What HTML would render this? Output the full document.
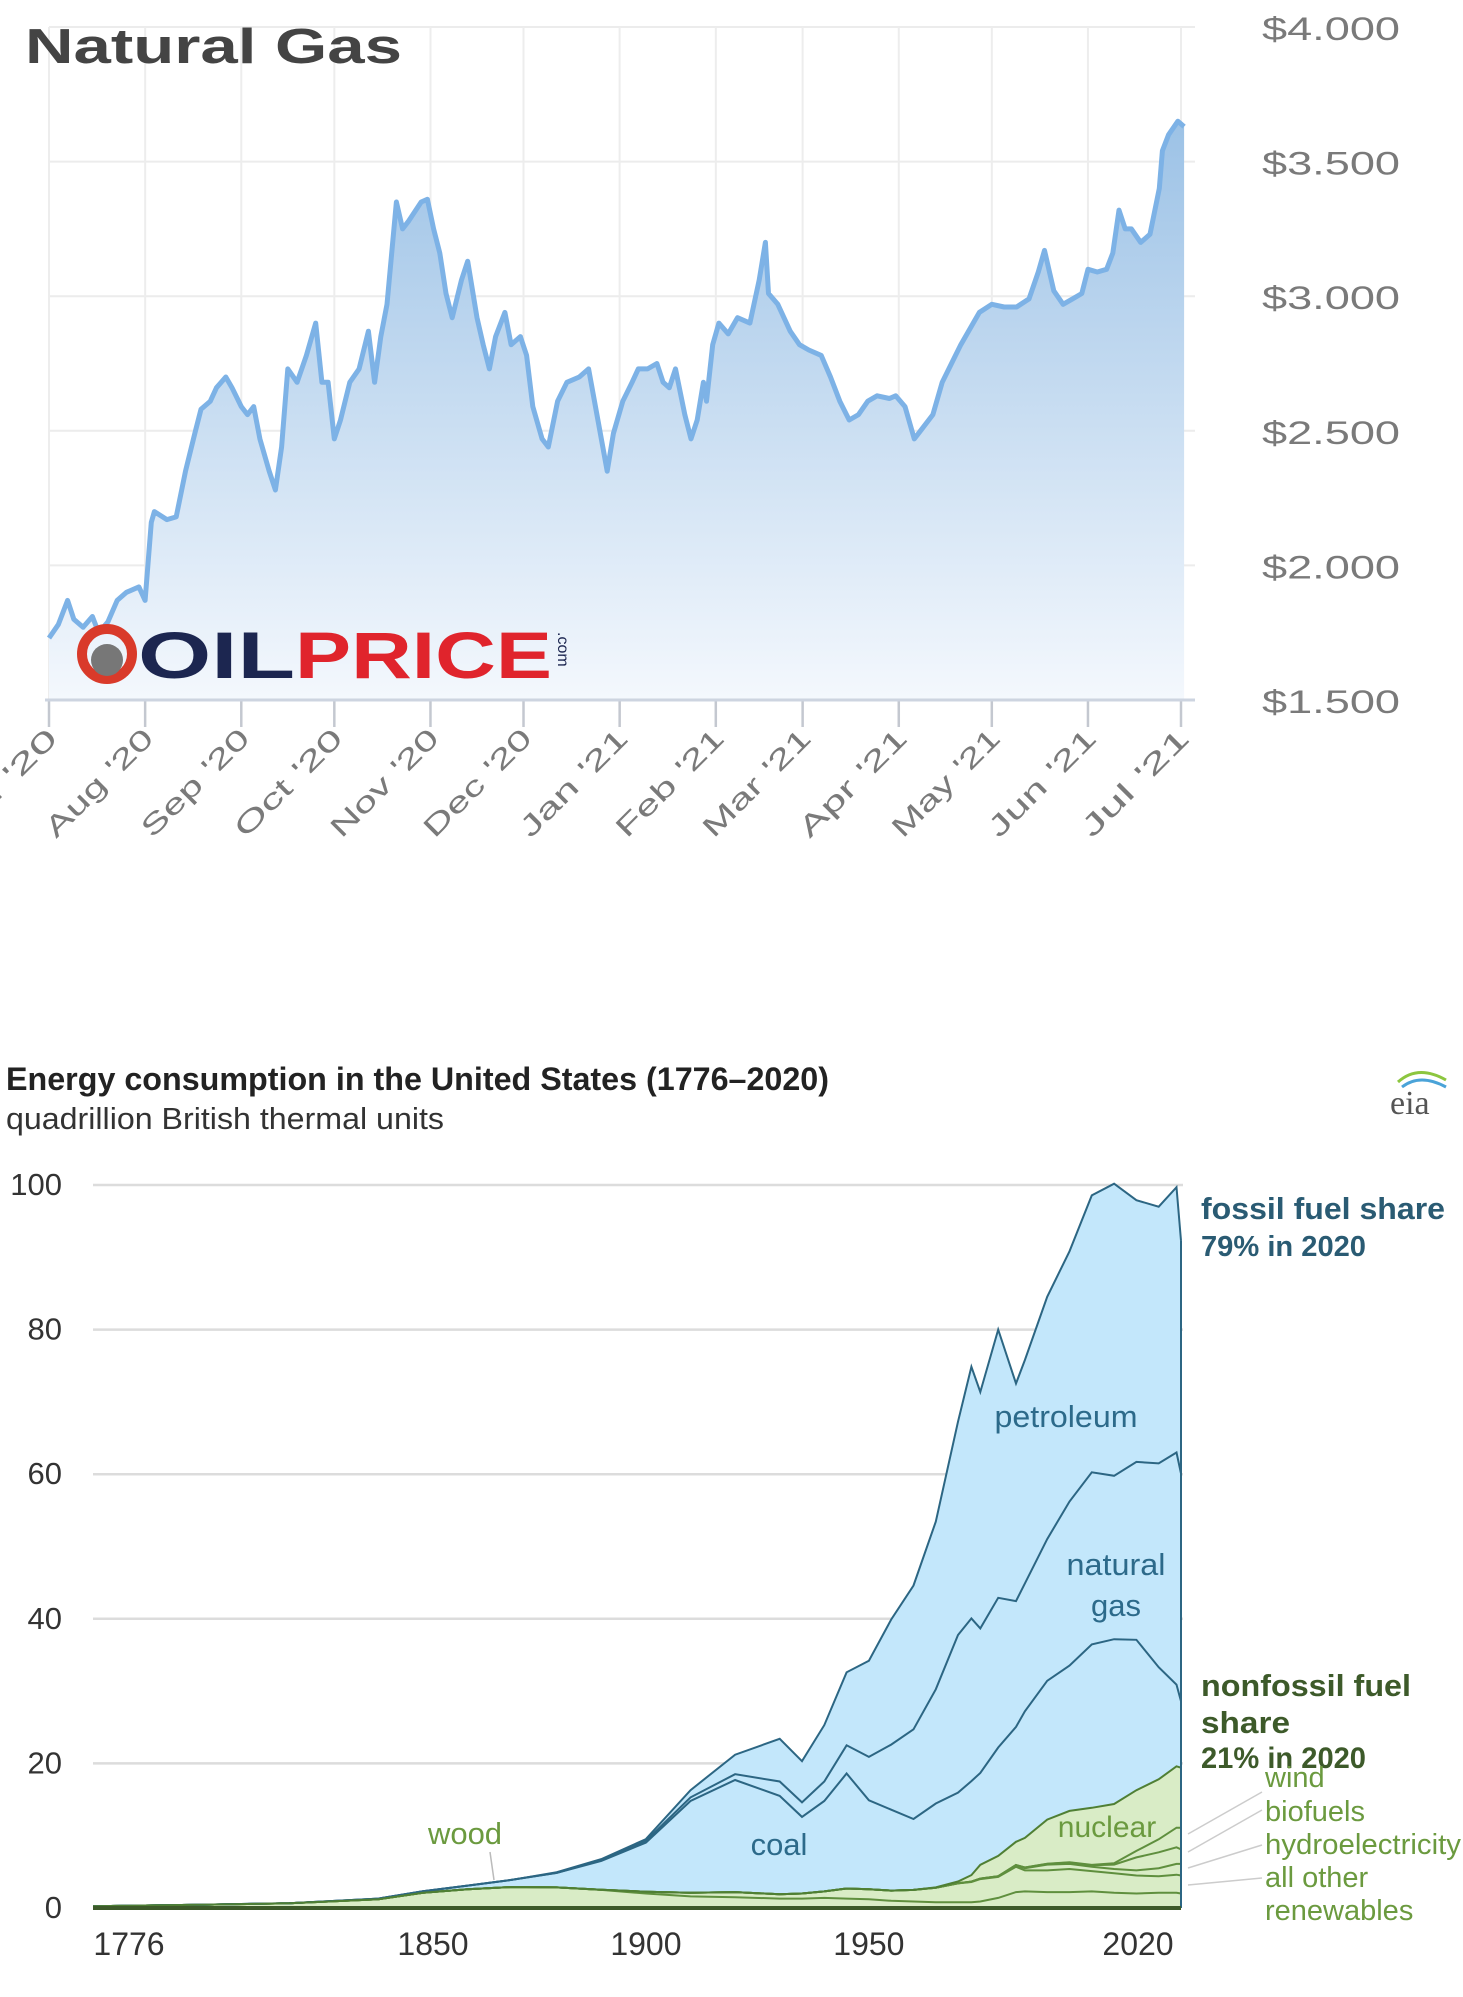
<!DOCTYPE html>
<html><head><meta charset="utf-8"><style>
html,body{margin:0;padding:0;background:#fff;}
svg{display:block;font-family:"Liberation Sans",Arial,sans-serif;}
</style></head><body>
<svg id="root" width="1463" height="1997" viewBox="0 0 1463 1997">
<defs>
<linearGradient id="gfill" x1="0" y1="0" x2="0" y2="1">
<stop offset="0" stop-color="#9cc2e6"/><stop offset="1" stop-color="#f4f8fd"/>
</linearGradient>
</defs>
<g id="ngChart">
<g id="ngGrid"></g>
<g id="ngArea"></g>
<text x="25" y="63" font-size="49" font-weight="bold" fill="#444" textLength="377" lengthAdjust="spacingAndGlyphs">Natural Gas</text>
<g>
<circle cx="107" cy="654" r="25" fill="none" stroke="#d93a2a" stroke-width="10"/>
<circle cx="107" cy="660" r="16" fill="#777"/>
<text x="138" y="678" font-size="66" font-weight="bold" fill="#1c2650" textLength="157" lengthAdjust="spacingAndGlyphs">OIL</text>
<text x="295" y="678" font-size="66" font-weight="bold" fill="#e0242c" textLength="257" lengthAdjust="spacingAndGlyphs">PRICE</text>
<text x="0" y="0" font-size="16" fill="#1c2650" transform="translate(558,632) rotate(90)">.com</text>
</g>
<g id="ngAxes"></g>
</g>
<g id="euChart">
<text x="6" y="1090" font-size="32" font-weight="bold" fill="#222" textLength="823" lengthAdjust="spacingAndGlyphs">Energy consumption in the United States (1776–2020)</text>
<text x="6" y="1129" font-size="31" fill="#333" textLength="438" lengthAdjust="spacingAndGlyphs">quadrillion British thermal units</text>
<g>
<path d="M1398 1082 Q1418 1064 1446 1080" stroke="#8cc63f" stroke-width="3" fill="none"/>
<path d="M1402 1087 Q1420 1073 1446 1087" stroke="#4aa3d8" stroke-width="3" fill="none"/>
<text x="1390" y="1114" font-size="34" font-family="Liberation Serif,serif" fill="#555">eia</text>
</g>
<g id="euGrid"></g>
<g id="euArea"></g>
<g id="euLabels"></g>
</g>
</svg>
<script>
// ---------- Natural gas data ----------
const ngDays=[0,3,6,8,11,14,16,19,22,25,29,31,33,34,38,41,44,47,49,52,54,57,59,62,64,66,68,71,73,75,77,80,83,86,88,90,92,94,97,100,103,105,107,109,112,114,116,120,122,124,126,128,130,133,135,138,140,142,144,147,149,152,154,156,159,161,164,167,171,174,177,180,182,185,188,190,193,196,198,200,202,205,207,209,211,212,214,216,219,222,226,229,231,232,235,239,242,245,249,252,255,258,261,264,267,271,273,276,279,281,285,288,291,294,298,300,304,308,312,316,319,321,324,327,330,333,335,338,341,343,345,347,349,352,355,358,359,361,364,366];
const ngPrices=[1.73,1.78,1.87,1.80,1.77,1.81,1.75,1.79,1.87,1.90,1.92,1.87,2.16,2.20,2.17,2.18,2.35,2.49,2.58,2.61,2.66,2.70,2.66,2.59,2.56,2.59,2.47,2.35,2.28,2.44,2.73,2.68,2.78,2.90,2.68,2.68,2.47,2.54,2.68,2.73,2.87,2.68,2.85,2.97,3.35,3.25,3.28,3.35,3.36,3.25,3.16,3.01,2.92,3.06,3.13,2.92,2.82,2.73,2.85,2.94,2.82,2.85,2.78,2.59,2.47,2.44,2.61,2.68,2.70,2.73,2.54,2.35,2.49,2.61,2.68,2.73,2.73,2.75,2.68,2.66,2.73,2.56,2.47,2.54,2.68,2.61,2.82,2.90,2.86,2.92,2.90,3.06,3.20,3.01,2.97,2.87,2.82,2.80,2.78,2.70,2.61,2.54,2.56,2.61,2.63,2.62,2.63,2.59,2.47,2.50,2.56,2.68,2.75,2.82,2.90,2.94,2.97,2.96,2.96,2.99,3.09,3.17,3.02,2.97,2.99,3.01,3.10,3.09,3.10,3.16,3.32,3.25,3.25,3.20,3.23,3.40,3.54,3.60,3.65,3.63];
const ngYTicks=[1.5,2.0,2.5,3.0,3.5,4.0];
const ngYLabels=["$1.500","$2.000","$2.500","$3.000","$3.500","$4.000"];
const ngMonths=["Jul '20","Aug '20","Sep '20","Oct '20","Nov '20","Dec '20","Jan '21","Feb '21","Mar '21","Apr '21","May '21","Jun '21","Jul '21"];
const ngMonthDays=[0,31,62,92,123,153,184,215,243,274,304,335,365];

// ---------- Energy data ----------
const euYears=[1776,1800,1820,1840,1850,1860,1870,1880,1890,1900,1910,1920,1930,1935,1940,1945,1950,1955,1960,1965,1970,1973,1975,1979,1983,1985,1990,1995,2000,2005,2010,2015,2019,2020];
const euWood=[0.25,0.45,0.65,1.2,2.1,2.6,2.9,2.85,2.5,2.0,1.6,1.5,1.3,1.3,1.4,1.3,1.2,1.0,0.9,0.8,0.8,0.8,0.9,1.4,2.2,2.3,2.2,2.2,2.3,2.1,2.0,2.1,2.1,2.0];
const euHydro=[0,0,0,0,0,0,0,0,0.02,0.25,0.5,0.7,0.6,0.7,0.9,1.4,1.4,1.4,1.6,2.0,2.6,2.8,3.1,2.9,3.5,2.9,3.0,3.2,2.8,2.7,2.5,2.3,2.5,2.5];
const euOtherRen=[0,0,0,0,0,0,0,0,0,0,0,0,0,0,0,0,0,0,0,0.01,0.02,0.05,0.07,0.1,0.2,0.3,0.8,0.7,0.6,0.6,0.7,1.1,1.5,1.6];
const euBiofuels=[0,0,0,0,0,0,0,0,0,0,0,0,0,0,0,0,0,0,0,0,0,0,0,0,0.05,0.1,0.1,0.2,0.2,0.6,1.8,2.2,2.3,2.0];
const euWind=[0,0,0,0,0,0,0,0,0,0,0,0,0,0,0,0,0,0,0,0,0,0,0,0,0,0,0.03,0.03,0.06,0.18,0.9,1.8,2.7,3.0];
const euNuclear=[0,0,0,0,0,0,0,0,0,0,0,0,0,0,0,0,0,0,0.01,0.04,0.24,0.9,1.9,2.8,3.2,4.1,6.1,7.1,7.9,8.2,8.4,8.3,8.5,8.3];
const euCoal=[0,0,0.02,0.1,0.22,0.5,1.0,2.0,4.0,6.8,12.7,15.5,13.6,10.6,12.5,15.9,12.3,11.2,9.8,11.6,12.3,13.0,12.7,15.0,15.9,17.5,19.2,20.1,22.6,22.8,20.8,15.5,11.3,9.2];
const euGas=[0,0,0,0,0,0,0,0,0.1,0.25,0.5,0.8,2.0,2.0,2.7,3.9,6.0,9.0,12.4,15.8,21.8,22.5,20.0,20.7,17.4,17.7,19.6,22.7,23.8,22.6,24.6,28.2,32.1,31.5];
const euPetroleum=[0,0,0,0,0,0,0,0.1,0.15,0.23,1.0,2.7,5.9,5.7,7.8,10.1,13.3,17.3,19.9,23.2,29.5,34.8,32.7,37.1,30.1,30.9,33.5,34.6,38.3,40.4,36.2,35.5,36.7,32.2];
const euYTicks=[0,20,40,60,80,100];
const euXTicks=[1776,1850,1900,1950,2020];

const NS="http://www.w3.org/2000/svg";
function mk(tag,attrs,parent){const e=document.createElementNS(NS,tag);for(const k in attrs)e.setAttribute(k,attrs[k]);parent.appendChild(e);return e;}

// ---- Natural gas chart ----
(function(){
const x0=49,x1=1181,y0=700,y1=27;
const xs=d=>x0+(d/365)*(x1-x0);
const ys=v=>y0-(v-1.5)/2.5*(y0-y1);
const grid=document.getElementById('ngGrid'),area=document.getElementById('ngArea'),ax=document.getElementById('ngAxes');
ngYTicks.forEach((t,i)=>{
  const l=mk('line',{x1:x0,x2:1195,y1:ys(t),y2:ys(t),stroke:'#ececec','stroke-width':2},grid);
  
  
  const tx=mk('text',{x:1262,y:ys(t)+13,'font-size':32,fill:'#7a7a7a',textLength:138,lengthAdjust:'spacingAndGlyphs'},grid);
  tx.textContent=ngYLabels[i];
  
  
});
ngMonthDays.forEach((d,i)=>{
  const X=xs(d);
  const l=mk('line',{x1:X,x2:X,y1:y1,y2:y0,stroke:'#ededed','stroke-width':2},grid);
  
  
  const tk=mk('line',{x1:X,x2:X,y1:y0,y2:y0+27,stroke:'#c4c8d0','stroke-width':2.5},ax);
  
  
  const tx=mk('text',{x:0,y:0,'font-size':28,fill:'#7a7a7a','text-anchor':'end',textLength:140,lengthAdjust:'spacingAndGlyphs',transform:`translate(${X+10},${y0+40}) rotate(-45)`},ax);
  tx.textContent=ngMonths[i];
  
  
});
const axl=mk('line',{x1:x0-4,x2:1195,y1:y0,y2:y0,stroke:'#cdd4e0','stroke-width':3},ax);


let d='';ngDays.forEach((dd,i)=>{d+=(i?'L':'M')+xs(dd).toFixed(1)+' '+ys(ngPrices[i]).toFixed(1);});
const fill=mk('path',{d:d+`L${xs(ngDays[ngDays.length-1])} ${y0}L${xs(0)} ${y0}Z`,fill:'url(#gfill)'},area);


const line=mk('path',{d:d,fill:'none',stroke:'#7db2e6','stroke-width':5,'stroke-linejoin':'round'},area);


})();

// ---- Energy chart ----
(function(){
const x0=93,x1=1181,y0=1908,y1=1185;
const xs=y=>x0+(y-1776)/(2020-1776)*(x1-x0);
const ys=v=>y0-v/100*(y0-y1);
const grid=document.getElementById('euGrid'),area=document.getElementById('euArea'),lab=document.getElementById('euLabels');
euYTicks.forEach(t=>{
  if(t>0){const l=mk('line',{x1:x0,x2:1183,y1:ys(t),y2:ys(t),stroke:'#dcdcdc','stroke-width':2.5},grid);
  
  }
  const tx=mk('text',{x:62,y:ys(t)+10,'font-size':31,fill:'#333','text-anchor':'end'},grid);
  tx.textContent=t;
  
  
});
euXTicks.forEach(t=>{
  let X=xs(t); if(t===1776) X=129; if(t===2020) X=1138; if(t===1850) X=433;
  const tx=mk('text',{x:X,y:1955,'font-size':32,fill:'#333','text-anchor':'middle'},grid);
  tx.textContent=t;
  
  
});
const layers=[euWood,euHydro,euOtherRen,euBiofuels,euWind,euNuclear];
const cum=[];let acc=euYears.map(()=>0);
layers.forEach(L=>{acc=acc.map((a,i)=>a+L[i]);cum.push(acc.slice());});
const c1=acc;const c2=[],c3=[],c4=[];
euYears.forEach((y,i)=>{const b=c1[i]+euCoal[i],c=b+euGas[i],d=c+euPetroleum[i];c2.push(b);c3.push(c);c4.push(d);});
const pts=arr=>euYears.map((y,i)=>xs(y).toFixed(1)+' '+ys(arr[i]).toFixed(1));
const lineD=arr=>'M'+pts(arr).join('L');
const areaD=(top,bot)=>{const t=pts(top),b=bot?pts(bot).reverse():[xs(2020)+' '+y0,xs(1776)+' '+y0];return 'M'+t.join('L')+'L'+b.join('L')+'Z';};
const fossil=mk('path',{d:areaD(c4,c1),fill:'#c3e7fb'},area);


const nonf=mk('path',{d:areaD(c1,null),fill:'#d9ecc6'},area);


const lnames=['wood-line','hydro-line','other-renewables-line','biofuels-line','wind-line'];
cum.slice(0,5).forEach((arr,k)=>{
  const p=mk('path',{d:lineD(arr),fill:'none',stroke:'#5f8f3e','stroke-width':2},area);
  
  
});
[[c4,'petroleum-line'],[c3,'natural-gas-line'],[c2,'coal-line']].forEach(([arr,n])=>{
  const p=mk('path',{d:lineD(arr),fill:'none',stroke:'#2c6683','stroke-width':2},area);
  
  
});
const nl=mk('path',{d:lineD(c1),fill:'none',stroke:'#4f7f34','stroke-width':2},area);


const rl=mk('line',{x1:xs(2020),x2:xs(2020),y1:ys(c4[c4.length-1]),y2:y0,stroke:'#2c6683','stroke-width':2},area);


const bl=mk('line',{x1:x0,x2:xs(2020),y1:y0,y2:y0,stroke:'#3d5a2a','stroke-width':4},area);


const labels=[
 ['petroleum',1066,1427,31,'#2c6a8a','middle','normal','petroleum-label',143],
 ['natural',1116,1575,31,'#2c6a8a','middle','normal','natural-gas-label',99],
 ['gas',1116,1616,31,'#2c6a8a','middle','normal','natural-gas-label-2',0],
 ['coal',779,1855,31,'#2c6a8a','middle','normal','coal-label',0],
 ['wood',465,1844,31,'#6b9a3f','middle','normal','wood-label',0],
 ['nuclear',1107,1837,30,'#6b9a3f','middle','normal','nuclear-label',0],
 ['fossil fuel share',1201,1219,31,'#2a5b73','start','bold','fossil-share-title',244],
 ['79% in 2020',1201,1256,29,'#2a5b73','start','bold','fossil-share-value',165],
 ['nonfossil fuel',1201,1696,31,'#3d5a2a','start','bold','nonfossil-share-title',210],
 ['share',1201,1733,31,'#3d5a2a','start','bold','nonfossil-share-title-2',89],
 ['21% in 2020',1201,1768,30,'#3d5a2a','start','bold','nonfossil-share-value',165],
 ['wind',1265,1787,29,'#6b9a3f','start','normal','wind-label',0],
 ['biofuels',1265,1821,29,'#6b9a3f','start','normal','biofuels-label',0],
 ['hydroelectricity',1265,1854,29,'#6b9a3f','start','normal','hydroelectricity-label',196],
 ['all other',1265,1887,29,'#6b9a3f','start','normal','all-other-label',0],
 ['renewables',1265,1920,29,'#6b9a3f','start','normal','renewables-label',0]];
labels.forEach(([t,x,y,fs,c,a,w,n,tl])=>{
  const e=mk('text',{x:x,y:y,'font-size':fs,fill:c,'text-anchor':a,'font-weight':w},lab);
  if(tl){e.setAttribute('textLength',tl);e.setAttribute('lengthAdjust','spacingAndGlyphs');}
  e.textContent=t;
  
  
});
[[1792,1834],[1810,1852],[1845,1868],[1878,1885]].forEach(([yt,ye])=>{
  const l=mk('line',{x1:1262,y1:yt,x2:1188,y2:ye,stroke:'#ccc','stroke-width':1.5},lab);
  
  
});
const wl=mk('line',{x1:490,y1:1852,x2:494,y2:1880,stroke:'#bbb','stroke-width':1.5},lab);


})();
</script>
</body></html>
